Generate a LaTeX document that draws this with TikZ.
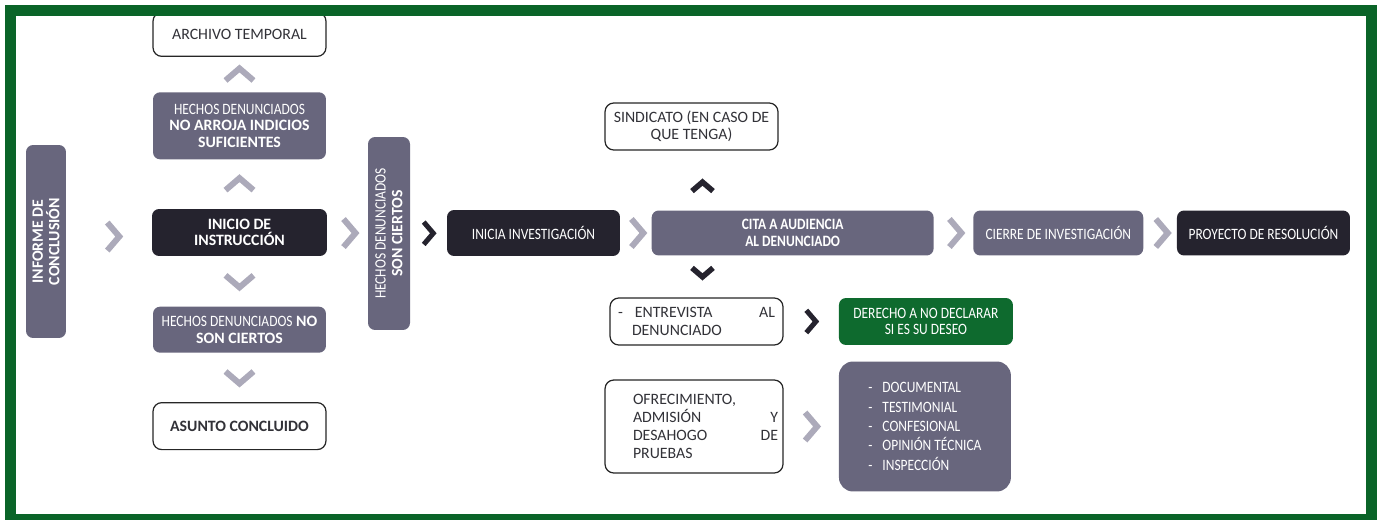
\documentclass[tikz,border=0pt]{standalone}
\usepackage{fontspec}
\setmainfont{Carlito}
\newfontfamily\angosta[FakeStretch=0.85]{Carlito}
\usetikzlibrary{positioning, calc}
\definecolor{marco}{RGB}{10,100,40}
\definecolor{pizarra}{RGB}{104,102,125}
\definecolor{oscuro}{RGB}{37,35,46}
\definecolor{verde}{RGB}{14,106,46}
\definecolor{flecha}{RGB}{172,170,186}
\definecolor{letra}{RGB}{50,50,56}
\tikzstyle{blanco} = [rectangle, rounded corners=5pt, draw=black!85, line width=0.7pt, fill=white, text=letra, align=center, inner sep=2pt]
\tikzstyle{gris} = [rectangle, rounded corners=4pt, fill=pizarra, text=white, align=center, inner sep=2pt]
\tikzstyle{negro} = [gris, fill=oscuro]
\tikzstyle{verdecaja} = [gris, fill=verde]
\tikzset{
  pics/chevder/.style = {code = {\draw[line width=1.2mm, #1] (-6,-14) -- (6,0) -- (-6,14);}},
  pics/chevder/.default = flecha,
  pics/chevarr/.style = {code = {\draw[line width=1.2mm, #1] (-14,6) -- (0,-6) -- (14,6);}},
  pics/chevarr/.default = flecha,
  pics/chevab/.style = {code = {\draw[line width=1.2mm, #1] (-14,-6) -- (0,6) -- (14,-6);}},
  pics/chevab/.default = flecha
}

\begin{document}
\fontsize{9}{9.5}\selectfont
\begin{tikzpicture}[x=0.02cm, y=-0.02cm]
\useasboundingbox (0,0) rectangle (1379,520);
%columna izquierda
\node[negro, minimum width=3.5cm, minimum height=0.94cm, font=\bfseries](ini) at (239.5,232.5){INICIO DE\\INSTRUCCIÓN};
\node[gris, above=0.98cm of ini, minimum width=3.46cm, minimum height=1.34cm](noarr){{\angosta HECHOS DENUNCIADOS}\\\textbf{NO ARROJA INDICIOS}\\\textbf{SUFICIENTES}};
\node[blanco, above=0.7cm of noarr, minimum width=3.46cm, minimum height=0.88cm](arch){ARCHIVO TEMPORAL};
\node[gris, below=1cm of ini, minimum width=3.46cm, minimum height=0.92cm](noson){{\angosta HECHOS DENUNCIADOS} \textbf{NO}\\\textbf{SON CIERTOS}};
\node[blanco, below=0.98cm of noson, minimum width=3.46cm, minimum height=0.94cm, font=\bfseries](asunto){ASUNTO CONCLUIDO};
\node[gris, rotate=90, minimum width=3.86cm, minimum height=0.8cm, font=\bfseries](inf) at (46,241.5){INFORME DE\\CONCLUSIÓN};
\node[gris, rotate=90, minimum width=3.86cm, minimum height=0.84cm](hsc) at (389,233.5){{\angosta HECHOS DENUNCIADOS}\\\textbf{SON CIERTOS}};
%linea principal
\node[negro, minimum width=3.46cm, minimum height=0.92cm, font=\angosta](inv) at (533.5,233){INICIA INVESTIGACIÓN};
\node[gris, right=0.62cm of inv, minimum width=5.64cm, minimum height=0.9cm, font=\angosta\bfseries](cita){CITA A AUDIENCIA\\AL DENUNCIADO};
\node[gris, right=0.78cm of cita, minimum width=3.4cm, minimum height=0.9cm, font=\angosta](cierre){CIERRE DE INVESTIGACIÓN};
\node[negro, right=0.66cm of cierre, minimum width=3.46cm, minimum height=0.9cm, font=\angosta](proy){PROYECTO DE RESOLUCIÓN};
%audiencia
\node[blanco, minimum width=3.46cm, minimum height=0.94cm](sind) at (691.5,126.5){SINDICATO (EN CASO DE\\QUE TENGA)};
\node[blanco, minimum width=3.46cm, minimum height=0.94cm, text width=3.14cm, align=left, font=\fontsize{9}{10.2}\selectfont](ent) at (696.5,321.5){-\hspace{2.4mm}ENTREVISTA\hfill AL\\\hspace*{2.8mm}DENUNCIADO};
\node[verdecaja, right=1.1cm of ent, minimum width=3.48cm, minimum height=0.94cm, font=\angosta](der){DERECHO A NO DECLARAR\\SI ES SU DESEO};
\node[blanco, minimum width=3.56cm, minimum height=1.86cm, text width=3.36cm, align=left, font=\fontsize{9}{10.2}\selectfont](ofr) at (694,426.5){\leftskip=4.6mm OFRECIMIENTO,\\ADMISIÓN\hfill Y\\DESAHOGO\hfill DE\\PRUEBAS\par};
\node[gris, right=1.1cm of ofr, rounded corners=8pt, minimum width=3.44cm, minimum height=2.6cm, align=left, font=\angosta\fontsize{9}{11}\selectfont](lst){-\hspace{2mm}DOCUMENTAL\\-\hspace{2mm}TESTIMONIAL\\-\hspace{2mm}CONFESIONAL\\-\hspace{2mm}OPINIÓN TÉCNICA\\-\hspace{2mm}INSPECCIÓN};
%flechas
\pic at ($(inf.south)!.55!(ini.west)$) {chevder};
\pic at ($(ini.east)!.55!(hsc.north)$) {chevder};
\pic[scale=.8] at ($(hsc.south)!.5!(inv.west)$) {chevder={oscuro, line width=1mm}};
\pic at ($(inv.east)!.55!(cita.west)$) {chevder};
\pic at ($(cita.east)!.55!(cierre.west)$) {chevder};
\pic at ($(cierre.east)!.55!(proy.west)$) {chevder};
\pic[scale=.8] at ($(ent.east)!.5!(der.west)$) {chevder={oscuro, line width=1mm}};
\pic at ($(ofr.east)!.5!(lst.west)$) {chevder};
\pic at ($(noarr.north)!.5!(arch.south)$) {chevarr};
\pic at ($(ini.north)!.5!(noarr.south)$) {chevarr};
\pic at ($(ini.south)!.5!(noson.north)$) {chevab};
\pic at ($(noson.south)!.5!(asunto.north)$) {chevab};
\pic[scale=.75] at ($(sind.south)+(11,36)$) {chevarr={oscuro, line width=1.1mm}};
\pic[scale=.75] at ($(ent.north)+(6,-25)$) {chevab={oscuro, line width=1.1mm}};
%marco
\draw[marco, line width=2.2mm] (10.5,10.5) rectangle (1371.5,519.5);
\end{tikzpicture}
\end{document}
